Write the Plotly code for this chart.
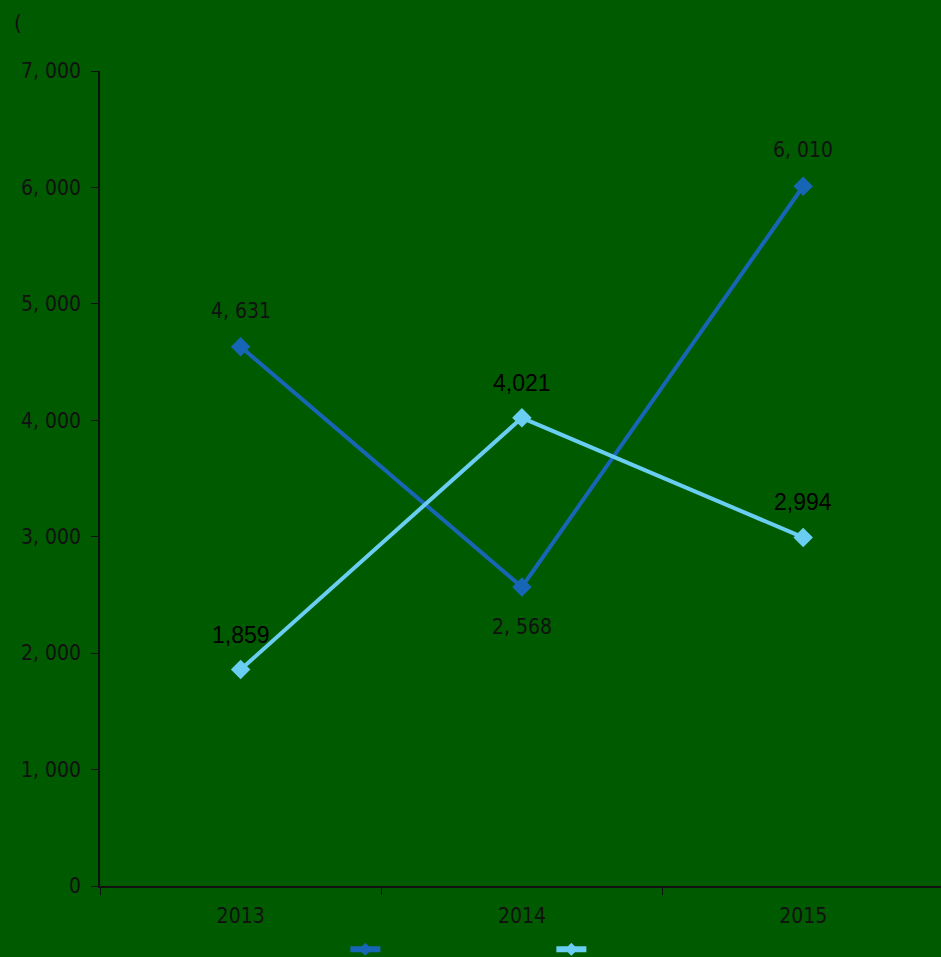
import plotly.graph_objects as go

years = ["2013", "2014", "2015"]
series_a = [4631, 2568, 6010]
series_b = [1859, 4021, 2994]
labels_a = ["4, 631", "2, 568", "6, 010"]
labels_b = ["1,859", "4,021", "2,994"]
y_ticks = [0, 1000, 2000, 3000, 4000, 5000, 6000, 7000]
y_tick_text = ["0", "1, 000", "2, 000", "3, 000", "4, 000", "5, 000", "6, 000", "7, 000"]

BG = "#005a00"
DARK = "#1766b6"
LIGHT = "#6acdf2"
NARROW = "DejaVu Sans Condensed, Liberation Sans Narrow, sans-serif"

fig = go.Figure()
fig.add_trace(go.Scatter(
    x=years, y=series_a, mode="lines+markers", showlegend=False,
    line=dict(color=DARK, width=4),
    marker=dict(symbol="diamond", size=15, color=DARK),
))
fig.add_trace(go.Scatter(
    x=years, y=series_b, mode="lines+markers", showlegend=False,
    line=dict(color=LIGHT, width=4),
    marker=dict(symbol="diamond", size=15, color=LIGHT),
))
# legend-only entries (smaller marker than the plotted ones)
for c in (DARK, LIGHT):
    fig.add_trace(go.Scatter(
        x=[None], y=[None], name=" ", mode="lines+markers",
        line=dict(color=c, width=6),
        marker=dict(symbol="diamond", size=10, color=c),
    ))

# data labels (category index used as x)
shifts_a = [36, -40, 36]
for i, (y, t, s) in enumerate(zip(series_a, labels_a, shifts_a)):
    fig.add_annotation(x=i, y=y, text=t, showarrow=False, yshift=s,
                       font=dict(family=NARROW, size=21, color="#111"))
for i, (y, t) in enumerate(zip(series_b, labels_b)):
    fig.add_annotation(x=i, y=y, text=t, showarrow=False, yshift=35,
                       font=dict(family="Liberation Sans, Arial, sans-serif", size=23, color="#000"))

fig.add_annotation(text="(", xref="paper", yref="paper", x=-0.097, y=1.06,
                   xanchor="center", yanchor="middle", showarrow=False,
                   font=dict(family=NARROW, size=22, color="#111"))

fig.update_layout(
    width=941, height=957,
    paper_bgcolor=BG, plot_bgcolor=BG,
    margin=dict(l=100, r=0, t=71, b=71),
    showlegend=True,
    legend=dict(orientation="h", xref="container", yref="container",
                x=0.367, y=0.008, xanchor="left", yanchor="middle",
                entrywidth=161, entrywidthmode="pixels",
                bgcolor="rgba(0,0,0,0)", font=dict(size=12)),
    font=dict(family=NARROW, size=21, color="#111"),
)
fig.update_xaxes(
    type="category", range=[-0.5, 2.49],
    showline=True, linecolor="#111", linewidth=1.5,
    ticks="outside", tickson="boundaries", ticklen=7, tickcolor="#111",
    ticklabelstandoff=10,
    showgrid=False, tickfont=dict(family=NARROW, size=21, color="#111"),
)
fig.update_yaxes(
    range=[0, 7000], tickvals=y_ticks, ticktext=y_tick_text,
    showline=True, linecolor="#111", linewidth=1.5,
    ticks="outside", ticklen=7, tickcolor="#111",
    ticklabelstandoff=6,
    showgrid=False, zeroline=False,
    tickfont=dict(family=NARROW, size=21, color="#111"),
)

fig.write_html("out.html", config={"displayModeBar": False},
               post_script="document.body.style.margin='0';")
